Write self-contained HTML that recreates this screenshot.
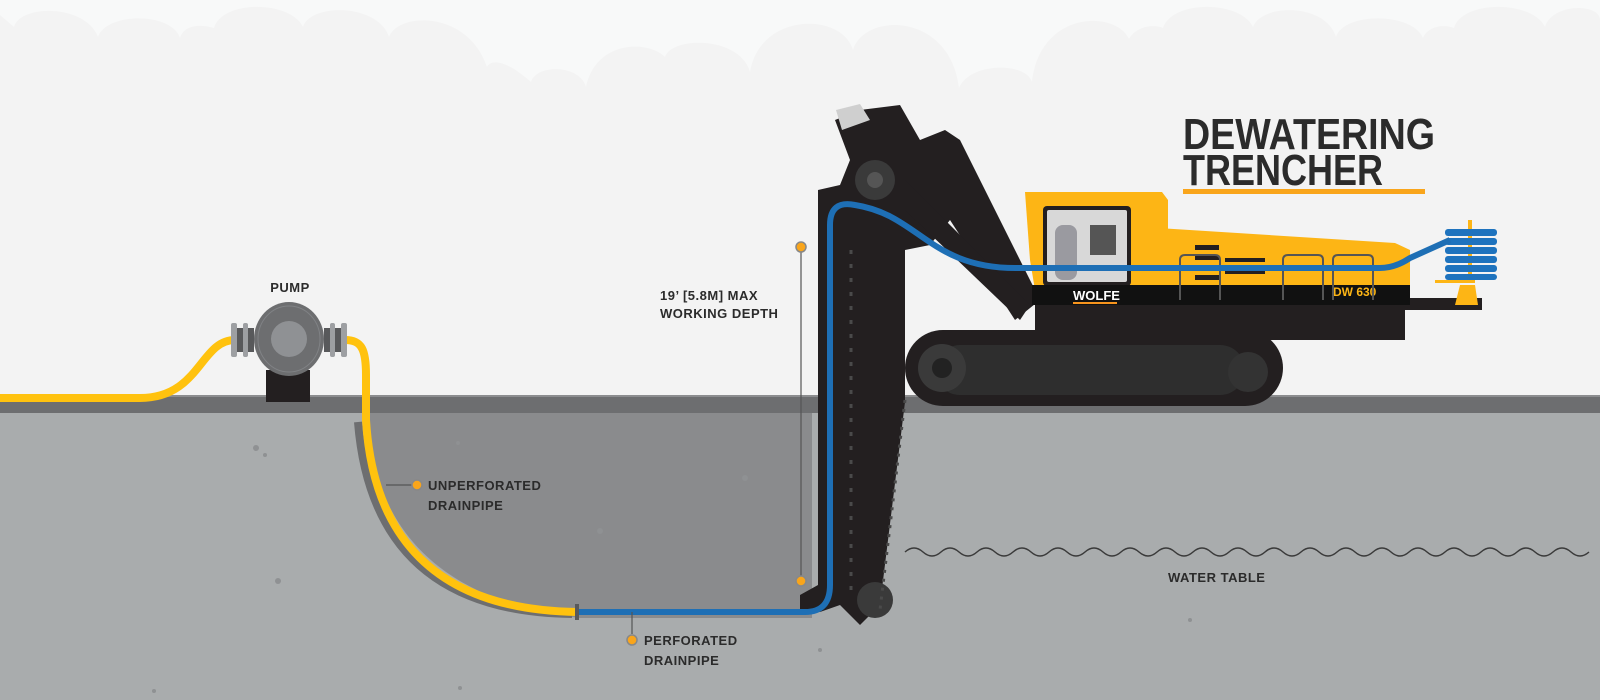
<!DOCTYPE html>
<html><head><meta charset="utf-8"><style>
html,body{margin:0;padding:0;background:#f8f9f9}
svg{display:block}
text{font-family:"Liberation Sans",sans-serif;font-weight:bold;fill:#2b2b2b}
</style></head><body>
<svg width="1600" height="700" viewBox="0 0 1600 700" xmlns="http://www.w3.org/2000/svg">
<rect width="1600" height="700" fill="#f8f9f9"/>
<path fill="#f3f3f3" d="M0 15 L14 27 C20 4 86 4 98 37 C106 12 172 12 180 38 C184 25 200 24 214 28 C222 0 290 0 303 27 C310 3 378 3 389 37 C398 12 468 10 487 67 C490 60 504 58 531 82 C536 64 580 64 586 87 C596 40 648 40 665 57 C672 36 740 36 750 72 C760 12 842 12 853 50 C864 12 950 12 959 88 C970 62 1026 62 1032 82 C1040 10 1116 10 1129 39 C1136 26 1154 24 1163 28 C1172 0 1240 0 1253 27 C1262 3 1326 3 1336 37 C1344 12 1412 12 1423 38 C1428 26 1444 24 1454 28 C1462 0 1532 0 1545 27 C1552 3 1600 3 1600 20 L1600 410 L0 410 Z"/>
<!-- soil -->
<rect x="0" y="412" width="1600" height="288" fill="#a9acad"/>
<path d="M370 412 L370 440 C380 520 430 600 580 618 L812 618 L812 412 Z" fill="#8a8b8d"/>
<rect x="0" y="396" width="1600" height="17" fill="#6d6e70"/>
<rect x="0" y="395" width="1600" height="2" fill="#8c8d8f"/>
<g fill="#8f9193"><circle cx="256" cy="448" r="3"/><circle cx="265" cy="455" r="2"/><circle cx="278" cy="581" r="3"/><circle cx="154" cy="691" r="2"/><circle cx="458" cy="443" r="2"/><circle cx="600" cy="531" r="3"/><circle cx="745" cy="478" r="3"/><circle cx="460" cy="688" r="2"/><circle cx="820" cy="650" r="2"/><circle cx="1190" cy="620" r="2"/></g>
<!-- water table -->
<path d="M905 552 q9 -8 18 0 t18 0 t18 0 t18 0 t18 0 t18 0 t18 0 t18 0 t18 0 t18 0 t18 0 t18 0 t18 0 t18 0 t18 0 t18 0 t18 0 t18 0 t18 0 t18 0 t18 0 t18 0 t18 0 t18 0 t18 0 t18 0 t18 0 t18 0 t18 0 t18 0 t18 0 t18 0 t18 0 t18 0 t18 0 t18 0 t18 0 t18 0" fill="none" stroke="#3a3a3a" stroke-width="1.5"/>
<!-- yellow pipe -->
<path d="M364 420 C372 520 420 610 578 612" fill="none" stroke="#6d6e70" stroke-width="8" transform="translate(-6,2)"/>
<path d="M0 398 L140 398 C200 398 200 340 235 340" fill="none" stroke="#ffc20e" stroke-width="8"/>
<path d="M345 340 C362 340 366 350 366 375 L366 420 C372 520 420 610 578 612" fill="none" stroke="#ffc20e" stroke-width="8"/>
<!-- pump -->
<rect x="266" y="370" width="44" height="32" fill="#231f20"/>
<path d="M270 370 l6 -8 h24 l6 8z" fill="#58595b"/>
<rect x="236" y="328" width="18" height="24" fill="#58595b"/><rect x="324" y="328" width="18" height="24" fill="#58595b"/>
<rect x="231" y="323" width="6" height="34" rx="2" fill="#9d9fa2"/><rect x="243" y="323" width="5" height="34" rx="2" fill="#9d9fa2"/>
<rect x="330" y="323" width="5" height="34" rx="2" fill="#9d9fa2"/><rect x="341" y="323" width="6" height="34" rx="2" fill="#9d9fa2"/>
<ellipse cx="289" cy="339" rx="35" ry="37" fill="#6d6e70"/>
<ellipse cx="289" cy="339" rx="31" ry="33" fill="none" stroke="#808285" stroke-width="1"/>
<ellipse cx="289" cy="339" rx="18" ry="18" fill="#8f9194"/>
<text x="290" y="292" font-size="13" text-anchor="middle" letter-spacing="0.5">PUMP</text>
<!-- trencher boom -->
<g fill="#231f20">
<path d="M860 110 L900 105 L920 140 L945 130 L960 140 L1040 300 L1015 320 L950 220 L930 245 L905 250 L905 402 L880 605 L860 625 L840 605 L820 612 L800 612 L800 595 L818 585 L818 190 L840 185 L850 160 L835 120 Z"/>
<path d="M905 180 L1030 305 L1020 320 L905 210 Z"/>
</g>
<path d="M836 110 L860 104 L870 120 L842 130 Z" fill="#cfcfcf"/>
<g fill="#3a3a3a"><circle cx="875" cy="180" r="20"/><circle cx="875" cy="600" r="18"/></g>
<g fill="#555"><circle cx="875" cy="180" r="8"/></g>
<path d="M851 250 L851 600" stroke="#4a4a4a" stroke-width="3" stroke-dasharray="4 10"/>
<path d="M905 400 L880 610" stroke="#4a4a4a" stroke-width="3" stroke-dasharray="3 6"/>
<!-- tracks -->
<rect x="905" y="330" width="378" height="76" rx="38" fill="#231f20"/>
<rect x="935" y="345" width="310" height="50" rx="25" fill="#2e2e2e"/>
<circle cx="942" cy="368" r="24" fill="#3a3a3a"/><circle cx="942" cy="368" r="10" fill="#222"/>
<circle cx="1248" cy="372" r="20" fill="#333"/>
<!-- chassis -->
<rect x="1035" y="300" width="370" height="40" fill="#231f20"/>
<rect x="1390" y="298" width="92" height="12" fill="#231f20"/>
<!-- cab -->
<path d="M1025 192 L1162 192 L1168 200 L1168 290 L1035 290 L1030 260 Z" fill="#fdb515"/>
<rect x="1043" y="206" width="88" height="80" rx="4" fill="#231f20"/>
<rect x="1047" y="210" width="80" height="72" rx="2" fill="#d8d8d8"/>
<rect x="1055" y="225" width="22" height="55" rx="8" fill="#9a9aa0"/>
<rect x="1090" y="225" width="26" height="30" fill="#555"/>
<!-- body -->
<path d="M1158 228 L1395 243 L1410 250 L1410 300 L1158 300 Z" fill="#fdb515"/>
<rect x="1032" y="285" width="378" height="20" fill="#111"/>
<text x="1073" y="300" font-size="13" style="fill:#fff">WOLFE</text>
<rect x="1073" y="302" width="44" height="2" fill="#f7941d"/>
<text x="1333" y="296" font-size="12" style="fill:#fdb515">DW 630</text>
<g fill="#231f20"><rect x="1195" y="245" width="24" height="5"/><rect x="1195" y="255" width="24" height="5"/><rect x="1195" y="265" width="24" height="5"/><rect x="1195" y="275" width="24" height="5"/><rect x="1225" y="258" width="40" height="4"/><rect x="1225" y="270" width="40" height="4"/></g>
<g fill="none" stroke="#555" stroke-width="2"><path d="M1180 300 V260 q0 -5 5 -5 h30 q5 0 5 5 V300"/><path d="M1283 300 V260 q0 -5 5 -5 h30 q5 0 5 5 V300"/><path d="M1333 300 V260 q0 -5 5 -5 h30 q5 0 5 5 V300"/></g>
<!-- coil -->
<rect x="1468" y="220" width="4" height="62" fill="#fdb515"/>
<g fill="#1e73be"><rect x="1445" y="229" width="52" height="7" rx="3"/><rect x="1445" y="238" width="52" height="7" rx="3"/><rect x="1445" y="247" width="52" height="7" rx="3"/><rect x="1445" y="256" width="52" height="7" rx="3"/><rect x="1445" y="265" width="52" height="7" rx="3"/><rect x="1445" y="274" width="52" height="6" rx="3"/></g>
<path d="M1460 285 L1475 285 L1478 305 L1455 305 Z" fill="#fdb515"/>
<rect x="1435" y="280" width="40" height="3" fill="#fdb515"/>
<!-- blue pipe -->
<path d="M578 612 L805 612 Q830 612 830 585 L830 225 Q830 200 855 205 C920 215 930 270 1020 268 L1380 268 Q1395 268 1410 258 L1450 240" fill="none" stroke="#1e6fb5" stroke-width="6"/>
<rect x="575" y="604" width="4" height="16" fill="#58595b"/>
<!-- labels -->
<g stroke="#555" stroke-width="1.2"><line x1="801" y1="247" x2="801" y2="581"/><line x1="386" y1="485" x2="412" y2="485"/><line x1="632" y1="612" x2="632" y2="634"/></g>
<g fill="#f9a51b" stroke="#888" stroke-width="1.5"><circle cx="801" cy="247" r="5"/><circle cx="801" cy="581" r="5"/><circle cx="417" cy="485" r="5"/><circle cx="632" cy="640" r="5"/></g>
<text x="428" y="490" font-size="13" letter-spacing="0.5">UNPERFORATED</text>
<text x="428" y="510" font-size="13" letter-spacing="0.5">DRAINPIPE</text>
<text x="644" y="645" font-size="13" letter-spacing="0.5">PERFORATED</text>
<text x="644" y="665" font-size="13" letter-spacing="0.5">DRAINPIPE</text>
<text x="660" y="300" font-size="13" letter-spacing="0.5">19’ [5.8M] MAX</text>
<text x="660" y="318" font-size="13" letter-spacing="0.5">WORKING DEPTH</text>
<text x="1168" y="582" font-size="13" letter-spacing="0.5">WATER TABLE</text>
<text x="1183" y="149" font-size="44" textLength="252" lengthAdjust="spacingAndGlyphs">DEWATERING</text>
<text x="1183" y="185" font-size="44" textLength="200" lengthAdjust="spacingAndGlyphs">TRENCHER</text>
<rect x="1183" y="189" width="242" height="5" fill="#f9a51b"/>
</svg>
</body></html>
